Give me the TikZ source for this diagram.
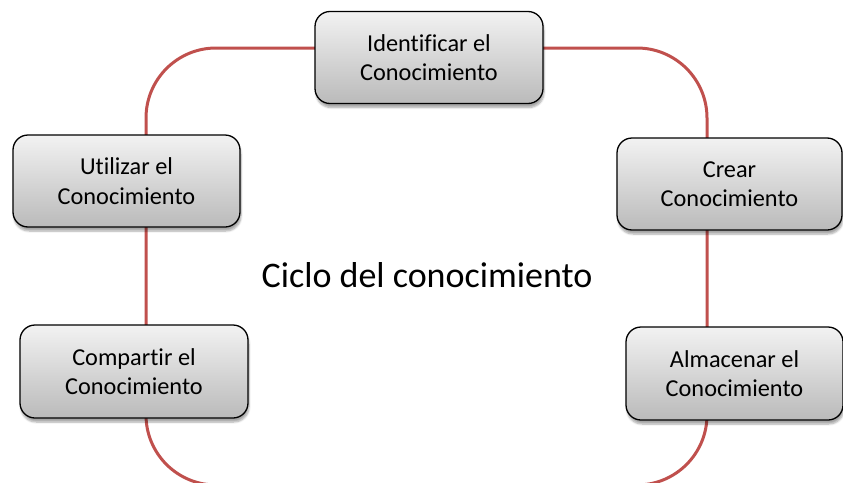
\documentclass[tikz,border=0pt]{standalone}
\usepackage{fontspec}
\setmainfont[Ligatures=NoCommon]{Carlito}
\usetikzlibrary{shadows.blur}
\definecolor{cyclered}{RGB}{192,80,77}
\tikzset{
  stagebox/.style={draw=black, line width=1.3pt, rounded corners=15pt,
    top color=black!5, bottom color=black!27,
    blur shadow={shadow xshift=1pt, shadow yshift=-4pt, shadow blur steps=6, shadow opacity=35},
    align=center, font=\fontsize{24.3}{29.5}\selectfont, inner sep=0pt},
  cycleline/.style={draw=cyclered, line width=3pt, rounded corners=70pt}
}
\begin{document}
\begin{tikzpicture}[x=1pt,y=-1pt]
\useasboundingbox (0,0) rectangle (843,482);
\draw[cycleline] (146,48) rectangle (707,485);
\node[stagebox, minimum width=228pt, minimum height=92pt] (ident) at (429,57.5) {Identificar el\\Conocimiento};
\node[stagebox, minimum width=227pt, minimum height=92pt] (util) at (126.5,181) {Utilizar el\\Conocimiento};
\node[stagebox, minimum width=225pt, minimum height=92pt] (crear) at (729.5,184) {Crear\\Conocimiento};
\node[stagebox, minimum width=228pt, minimum height=93pt] (comp) at (134,371.5) {Compartir el\\Conocimiento};
\node[stagebox, minimum width=217pt, minimum height=93pt] (alma) at (734.5,373.5) {Almacenar el\\Conocimiento};
\node[font=\fontsize{36}{40}\selectfont, inner sep=0pt] (title) at (427,275) {Ciclo del conocimiento};
\end{tikzpicture}
\end{document}
